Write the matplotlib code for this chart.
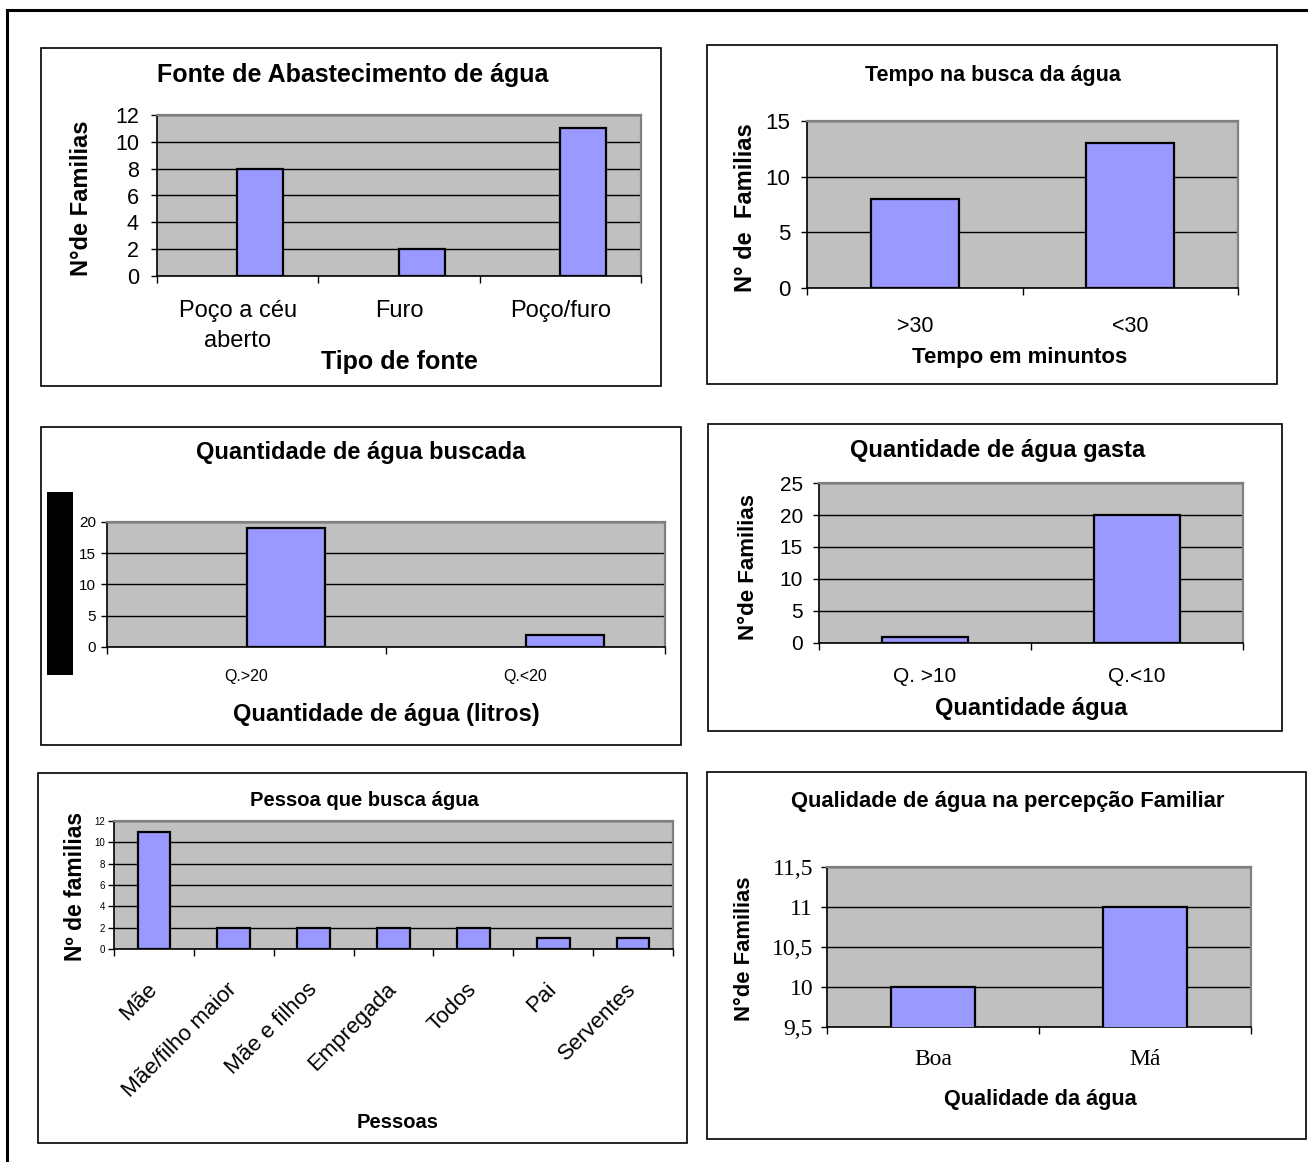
import matplotlib
matplotlib.use("Agg")
import matplotlib.pyplot as plt
import numpy as np
from matplotlib.patches import Rectangle
from matplotlib.lines import Line2D
from matplotlib.ticker import FuncFormatter

W, H = 1308, 1162

# ---------------- data ----------------
fonte_cats = ["Poço a céu\naberto", "Furo", "Poço/furo"]
fonte_vals = [8, 2, 11]

tempo_cats = [">30", "<30"]
tempo_vals = [8, 13]

buscada_cats = ["Q.>20", "Q.<20"]
buscada_vals = [19, 2]

gasta_cats = ["Q. >10", "Q.<10"]
gasta_vals = [1, 20]

pessoa_cats = ["Mãe", "Mãe/filho maior", "Mãe e filhos", "Empregada", "Todos", "Pai", "Serventes"]
pessoa_vals = [11, 2, 2, 2, 2, 1, 1]

qualidade_cats = ["Boa", "Má"]
qualidade_vals = [10, 11]

# ---------------- style ----------------
SANS = ["Liberation Sans", "DejaVu Sans"]
NARROW = ["Liberation Sans Narrow", "Liberation Sans", "DejaVu Sans"]
SERIF = ["Liberation Serif", "DejaVu Serif"]
BAR = "#9999FF"
PLOT_BG = "#C0C0C0"

fig = plt.figure(figsize=(W / 100, H / 100), dpi=100)
fig.patch.set_facecolor("white")


def fx(x):
    return x / W


def fy(y):
    return 1 - y / H


def box(x0, y0, x1, y1, lw=1.2, color="black"):
    fig.add_artist(Rectangle((fx(x0), fy(y1)), fx(x1) - fx(x0), fy(y0) - fy(y1),
                             transform=fig.transFigure, fill=False,
                             edgecolor=color, linewidth=lw))


def ftext(x, y, s, **kw):
    kw.setdefault("ha", "center")
    kw.setdefault("va", "center")
    fig.text(fx(x), fy(y), s, **kw)


def make_axes(x0, y0, x1, y1):
    return fig.add_axes([fx(x0), fy(y1), fx(x1) - fx(x0), fy(y0) - fy(y1)])


def style_axes(ax, cats, vals, ylim, yticks, offset, width, ytick_font, ytick_size,
               ypad, xtick_font, xtick_size, xpad, rotation=0, fmt=None):
    n = len(cats)
    x = np.arange(n)
    ax.set_facecolor(PLOT_BG)
    ax.bar(x + offset, vals, width=width, color=BAR, edgecolor="black",
           linewidth=1.6, zorder=3)
    ax.set_xlim(-0.5, n - 0.5)
    ax.set_ylim(*ylim)
    ax.set_yticks(yticks)
    if fmt is not None:
        ax.yaxis.set_major_formatter(FuncFormatter(fmt))
    ax.set_axisbelow(True)
    ax.grid(axis="y", color="black", linewidth=1.0, zorder=1)
    for s in ("top", "right"):
        ax.spines[s].set_color("#808080")
        ax.spines[s].set_linewidth(1.6)
    for s in ("left", "bottom"):
        ax.spines[s].set_color("black")
        ax.spines[s].set_linewidth(1.2)
    ax.tick_params(axis="y", direction="out", length=4, width=1.0, pad=ypad)
    for lab in ax.get_yticklabels():
        lab.set_fontfamily(ytick_font)
        lab.set_fontsize(ytick_size)
    # category labels at centres, tick marks at category boundaries
    ax.set_xticks(x)
    if rotation:
        ax.set_xticklabels(cats, rotation=rotation, ha="right", va="center",
                           rotation_mode="anchor", fontfamily=xtick_font,
                           fontsize=xtick_size)
    else:
        ax.set_xticklabels(cats, fontfamily=xtick_font, fontsize=xtick_size,
                           linespacing=1.5)
    ax.tick_params(axis="x", which="major", length=0, pad=xpad)
    ax.set_xticks(np.arange(n + 1) - 0.5, minor=True)
    ax.tick_params(axis="x", which="minor", direction="out", length=5, width=1.0)


# outer frame (top and left lines)
fig.add_artist(Line2D([fx(7), fx(1308)], [fy(10), fy(10)], transform=fig.transFigure,
                      color="black", linewidth=2.2))
fig.add_artist(Line2D([fx(7), fx(7)], [fy(10), fy(1162)], transform=fig.transFigure,
                      color="black", linewidth=2.2))

# ---------- Panel 1: Fonte de Abastecimento ----------
box(41, 48, 661, 386)
ax1 = make_axes(157, 115, 641, 276)
style_axes(ax1, fonte_cats, fonte_vals, (0, 12), [0, 2, 4, 6, 8, 10, 12], 0.14, 0.285,
           SANS, 15.5, 9, SANS, 17, 17)
ftext(353, 75, "Fonte de Abastecimento de água", fontfamily=SANS, fontsize=18, fontweight="bold")
ftext(399, 362, "Tipo de fonte", fontfamily=SANS, fontsize=18, fontweight="bold")
ftext(82, 198, "N°de Familias", fontfamily=SANS, fontsize=17, fontweight="bold", rotation=90)

# ---------- Panel 2: Tempo na busca ----------
box(707, 45, 1277, 384)
ax2 = make_axes(807, 121, 1238, 288)
style_axes(ax2, tempo_cats, tempo_vals, (0, 15), [0, 5, 10, 15], 0.0, 0.41,
           NARROW, 16, 8, NARROW, 15.5, 20)
ftext(993, 76, "Tempo na busca da água", fontfamily=NARROW, fontsize=15.5, fontweight="bold")
ftext(1020, 358, "Tempo em minuntos", fontfamily=NARROW, fontsize=16, fontweight="bold")
ftext(746, 208, "N° de  Familias", fontfamily=SANS, fontsize=17, fontweight="bold", rotation=90)

# ---------- Panel 3: Quantidade buscada ----------
box(41, 427, 681, 745)
ax3 = make_axes(107, 522, 665, 647)
style_axes(ax3, buscada_cats, buscada_vals, (0, 20), [0, 5, 10, 15, 20], 0.14, 0.28,
           NARROW, 11, 4, NARROW, 11.5, 16)
fig.add_artist(Rectangle((fx(47), fy(675)), fx(73) - fx(47), fy(492) - fy(675),
                         transform=fig.transFigure, facecolor="black", edgecolor="none"))
ftext(361, 452, "Quantidade de água buscada", fontfamily=SANS, fontsize=17, fontweight="bold")
ftext(386, 714, "Quantidade de água (litros)", fontfamily=SANS, fontsize=17, fontweight="bold")

# ---------- Panel 4: Quantidade gasta ----------
box(708, 424, 1282, 731)
ax4 = make_axes(819, 483, 1243, 643)
style_axes(ax4, gasta_cats, gasta_vals, (0, 25), [0, 5, 10, 15, 20, 25], 0.0, 0.41,
           SANS, 15, 7.5, SANS, 15, 17.5)
ftext(998, 450, "Quantidade de água gasta", fontfamily=SANS, fontsize=17, fontweight="bold")
ftext(1031, 708, "Quantidade água", fontfamily=SANS, fontsize=17, fontweight="bold")
ftext(748, 567, "N°de Familias", fontfamily=SANS, fontsize=16, fontweight="bold", rotation=90)

# ---------- Panel 5: Pessoa que busca ----------
box(38, 773, 687, 1143)
ax5 = make_axes(114, 821, 673, 949)
style_axes(ax5, pessoa_cats, pessoa_vals, (0, 12), [0, 2, 4, 6, 8, 10, 12], 0.0, 0.41,
           NARROW, 7, 2.5, NARROW, 16, 27, rotation=45)
ftext(364, 801, "Pessoa que busca água", fontfamily=NARROW, fontsize=14.5, fontweight="bold")
ftext(398, 1122, "Pessoas", fontfamily=NARROW, fontsize=14.5, fontweight="bold")
ftext(75, 886, "Nº de familias", fontfamily=SANS, fontsize=16.5, fontweight="bold", rotation=90)

# ---------- Panel 6: Qualidade ----------
box(707, 772, 1306, 1139)
ax6 = make_axes(827, 867, 1251, 1027)
style_axes(ax6, qualidade_cats, qualidade_vals, (9.5, 11.5), [9.5, 10, 10.5, 11, 11.5], 0.0, 0.40,
           SERIF, 17, 6, SERIF, 17, 16,
           fmt=lambda v, p: ("%g" % v).replace(".", ","))
ftext(1008, 801, "Qualidade de água na percepção Familiar", fontfamily=SANS, fontsize=15.8, fontweight="bold")
ftext(1040, 1100, "Qualidade da água", fontfamily=SANS, fontsize=15.6, fontweight="bold")
ftext(744, 949, "N°de Familias", fontfamily=SANS, fontsize=15.8, fontweight="bold", rotation=90)

fig.savefig("out.png", dpi=100, facecolor="white")
